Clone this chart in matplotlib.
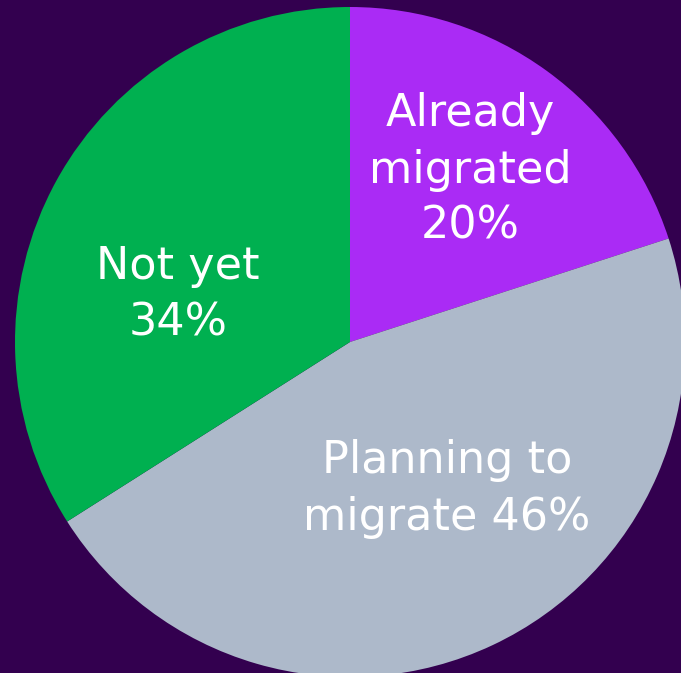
import matplotlib
matplotlib.use("Agg")
import matplotlib.pyplot as plt

categories = ["Already migrated", "Planning to migrate", "Not yet"]
shares = [20, 46, 34]
colors = ["#AA2BF5", "#ADB9CA", "#00B050"]
label_texts = ["Already\nmigrated\n20%", "Planning to\nmigrate 46%", "Not yet\n34%"]

W, H = 681, 673
fig = plt.figure(figsize=(W / 100, H / 100), dpi=100)
fig.patch.set_facecolor("#33004F")
ax = fig.add_axes([0, 0, 1, 1])
ax.set_facecolor("#33004F")

cx, cy, r = 350, H - 342, 335
ax.pie(shares, colors=colors, startangle=90, counterclock=False,
       center=(cx, cy), radius=r, frame=True,
       wedgeprops=dict(linewidth=0))
ax.set_xlim(0, W)
ax.set_ylim(0, H)
ax.set_aspect("equal")
ax.axis("off")

label_pos = [(470, H - 170), (447, H - 489), (178, H - 295)]
for txt, (x, y) in zip(label_texts, label_pos):
    ax.text(x, y, txt, ha="center", va="center", color="white",
            fontsize=32, family="DejaVu Sans", linespacing=1.39)

fig.savefig("out.png", dpi=100, facecolor=fig.get_facecolor())
